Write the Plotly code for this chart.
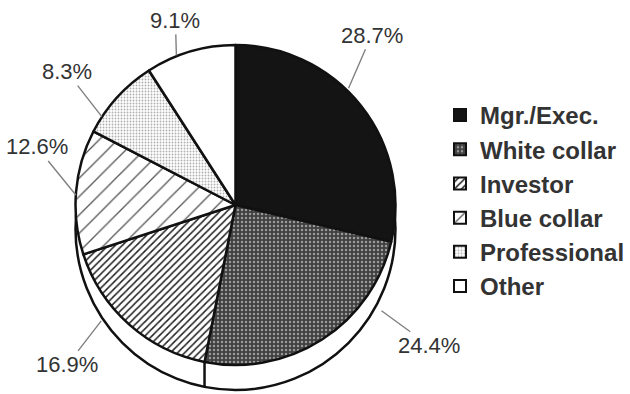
import math
import plotly.graph_objects as go

# ---- data ----
categories = ["Mgr./Exec.", "White collar", "Investor", "Blue collar", "Professional", "Other"]
shares = [28.7, 24.4, 16.9, 12.6, 8.3, 9.1]
label_texts = ["28.7%", "24.4%", "16.9%", "12.6%", "8.3%", "9.1%"]

# ---- style ----
W, H = 630, 394
CX, CY, R = 237, 205, 161          # pie centre / radius in pixels
RIM_DROP = 24                       # depth of the 3-D rim

base_colors = ["#141414", "#404040", "#ffffff", "#ffffff", "#ffffff", "#ffffff"]
pat_shapes = ["", ".", "/", "/", ".", ""]
pat_fg = ["#141414", "#9a9a9a", "#222222", "#555555", "#b0b0b0", "#ffffff"]
pat_bg = ["#141414", "#404040", "#ffffff", "#ffffff", "#ffffff", "#ffffff"]
pat_size = [6, 4, 5, 13, 3, 6]
pat_solid = [0.3, 0.3, 0.3, 0.1, 0.3, 0.3]

# leader-line placement (angle nudge in degrees, radius in px, text offset in px)
lead_nudge = [-7.4, -21.5, 7.8, -1.1, -9.0, -5.3]
lead_radius = [163, 181, 178, 161, 161, 161]
text_off = [(23, -53), (48, 35), (-34, 44), (-39, -48), (-35, -45), (-1, -35)]


def px2paper(x, y):
    return x / W, 1 - y / H


fig = go.Figure()

fig.add_trace(go.Pie(
    labels=categories,
    values=shares,
    sort=False,
    direction="clockwise",
    rotation=0,
    textinfo="none",
    hoverinfo="label+percent",
    domain=dict(x=[(CX - R) / W, (CX + R) / W], y=[1 - (CY + R) / H, 1 - (CY - R) / H]),
    marker=dict(
        colors=base_colors,
        line=dict(color="#111111", width=2.5),
        pattern=dict(
            shape=pat_shapes,
            fgcolor=pat_fg,
            bgcolor=pat_bg,
            size=pat_size,
            solidity=pat_solid,
            fillmode="replace",
        ),
    ),
))

# 3-D rim under the pie
x0, y1 = px2paper(CX - R, CY - R + RIM_DROP)
x1, y0 = px2paper(CX + R, CY + R + RIM_DROP)
shapes = [dict(type="circle", xref="paper", yref="paper", x0=x0, x1=x1, y0=y0, y1=y1,
               fillcolor="white", line=dict(color="#111111", width=2.5), layer="below")]

# boundary between White collar and Investor continues down the rim
cum = 0.0
total = sum(shares)
mids = []
bounds = []
for v in shares:
    mids.append((cum + v / 2) / total * 360)
    cum += v
    bounds.append(cum / total * 360)
ang = math.radians(bounds[1])
bx, by = CX + R * math.sin(ang), CY - R * math.cos(ang)
ax0, ay0 = px2paper(bx, by)
ax1, ay1 = px2paper(bx, by + RIM_DROP)
shapes.append(dict(type="line", xref="paper", yref="paper", x0=ax0, y0=ay0, x1=ax1, y1=ay1,
                   line=dict(color="#111111", width=2.5), layer="below"))

annotations = []
for i, txt in enumerate(label_texts):
    a = math.radians(mids[i] + lead_nudge[i])
    hx = CX + lead_radius[i] * math.sin(a)
    hy = CY - lead_radius[i] * math.cos(a)
    px, py = px2paper(hx, hy)
    annotations.append(dict(
        x=px, y=py, xref="paper", yref="paper",
        text=txt, showarrow=True, arrowhead=0, arrowwidth=1.4, arrowcolor="#808080",
        ax=text_off[i][0], ay=text_off[i][1], standoff=0,
        font=dict(family="Liberation Sans, Arial, sans-serif", size=22, color="#333333"),
    ))

fig.update_layout(
    width=W, height=H,
    margin=dict(l=0, r=0, t=0, b=0),
    paper_bgcolor="white",
    plot_bgcolor="white",
    shapes=shapes,
    annotations=annotations,
    showlegend=True,
    legend=dict(
        x=0.703, y=0.49, xanchor="left", yanchor="middle",
        font=dict(family="Liberation Sans, Arial, sans-serif", size=24, color="#333333", weight="bold"),
        itemsizing="constant",
        bgcolor="rgba(0,0,0,0)",
        tracegroupgap=0,
    ),
)

fig.write_html("out.html")
